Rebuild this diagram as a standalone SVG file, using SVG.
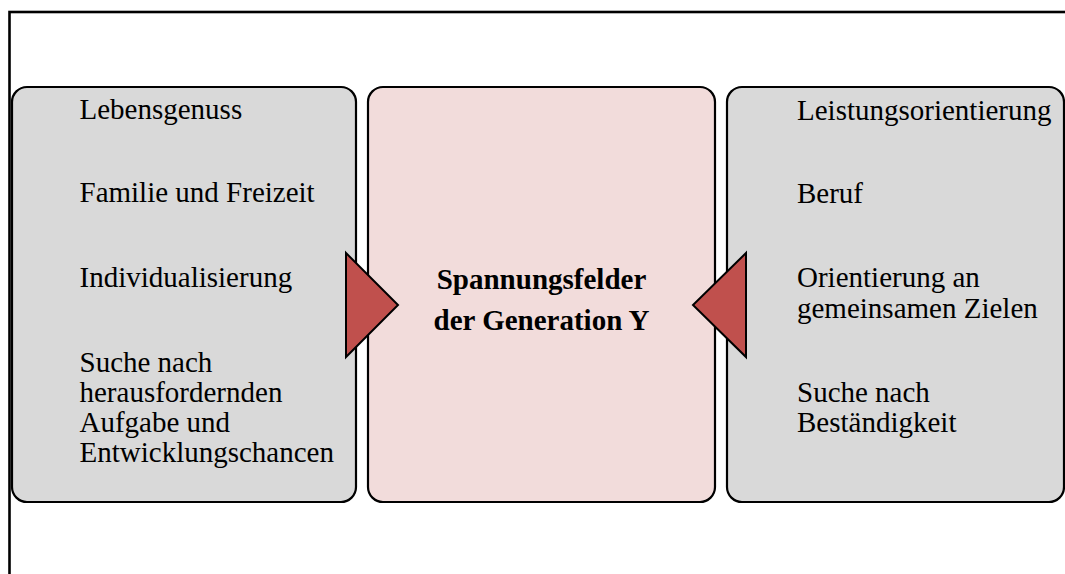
<svg xmlns="http://www.w3.org/2000/svg" width="1065" height="574" viewBox="0 0 1065 574">
<style>
.frame{fill:#ffffff;stroke:#000;stroke-width:2.6}
.box{stroke:#000;stroke-width:2.2}
.side{fill:#d9d9d9}
.mid{fill:#f2dcdb}
.arrow{fill:#c0504d;stroke:#000;stroke-width:2;stroke-linejoin:miter}
.t{font-family:"Liberation Serif","Times New Roman",serif;font-size:29px;fill:#000}
.b{font-weight:bold;text-anchor:middle}
</style>
<rect class="frame" x="9.5" y="12" width="1100" height="620"/>
<g id="left-box">
<rect class="box side" x="12" y="87" width="344" height="415" rx="15" ry="15"/>
<text class="t" x="79.5" y="118.5">Lebensgenuss</text>
<text class="t" x="79.5" y="202">Familie und Freizeit</text>
<text class="t" x="79.5" y="286.5">Individualisierung</text>
<text class="t" x="79.5" y="372">Suche nach</text>
<text class="t" x="79.5" y="402">herausfordernden</text>
<text class="t" x="79.5" y="432">Aufgabe und</text>
<text class="t" x="79.5" y="462">Entwicklungschancen</text>
</g>
<g id="center-box">
<rect class="box mid" x="368" y="87" width="347" height="415" rx="15" ry="15"/>
<text class="t b" x="541.5" y="288.5">Spannungsfelder</text>
<text class="t b" x="541.5" y="330">der Generation Y</text>
</g>
<g id="right-box">
<rect class="box side" x="727" y="87" width="337" height="415" rx="15" ry="15"/>
<text class="t" x="797" y="120">Leistungsorientierung</text>
<text class="t" x="797" y="203">Beruf</text>
<text class="t" x="797" y="287">Orientierung an</text>
<text class="t" x="797" y="317.5">gemeinsamen Zielen</text>
<text class="t" x="797" y="402">Suche nach</text>
<text class="t" x="797" y="432">Beständigkeit</text>
</g>
<g id="connectors">
<polygon class="arrow" points="346,253 398,305 346,357"/>
<polygon class="arrow" points="746,253 693,305 746,357"/>
</g>
</svg>
